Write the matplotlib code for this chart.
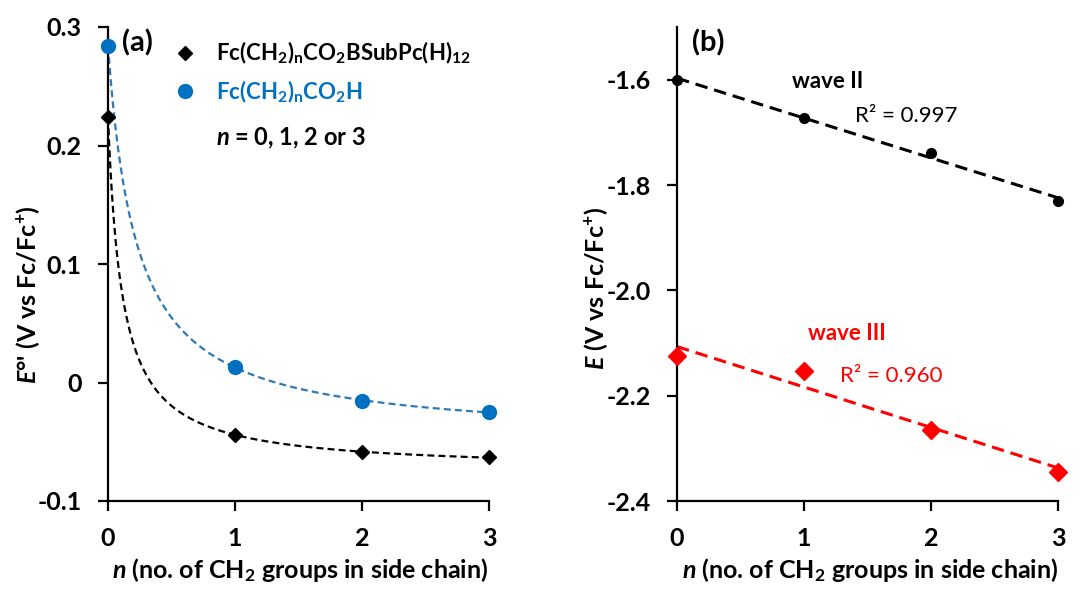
import numpy as np
import matplotlib
matplotlib.use("Agg")
import matplotlib.pyplot as plt
from matplotlib.lines import Line2D

plt.rcParams['font.family'] = ['Lato', 'DejaVu Sans']
plt.rcParams['mathtext.fontset'] = 'custom'
plt.rcParams['mathtext.rm'] = 'Lato:bold'
plt.rcParams['mathtext.bf'] = 'Lato:bold'
plt.rcParams['mathtext.it'] = 'Lato:italic:bold'
plt.rcParams['mathtext.default'] = 'bf'
plt.rcParams['lines.scale_dashes'] = False

# ---- data ----
n_vals = [0, 1, 2, 3]
ester_E = [0.224, -0.044, -0.059, -0.063]      # Fc(CH2)nCO2BSubPc(H)12
acid_E = [0.284, 0.013, -0.016, -0.0245]       # Fc(CH2)nCO2H
wave2_E = [-1.600, -1.673, -1.740, -1.830]
wave3_E = [-2.125, -2.154, -2.265, -2.344]
xticks = [0, 1, 2, 3]
yticks_a = [-0.1, 0, 0.1, 0.2, 0.3]
yticklabels_a = ['-0.1', '0', '0.1', '0.2', '0.3']
yticks_b = [-2.4, -2.2, -2.0, -1.8, -1.6]
yticklabels_b = ['-2.4', '-2.2', '-2.0', '-1.8', '-1.6']

BLUE = '#0070C0'
BLUE_LINE = '#2F7AB5'
RED = '#FF0000'

W, H = 1090, 589
fig = plt.figure(figsize=(W / 100, H / 100), dpi=100)


def px_axes(l, t, r, b):
    return fig.add_axes([l / W, 1 - b / H, (r - l) / W, (b - t) / H])


def hyper_fit(x, y):
    x = np.asarray(x, float)
    y = np.asarray(y, float)
    best = None
    for c in np.linspace(0.01, 3, 3000):
        A = np.column_stack([np.ones_like(x), 1 / (x + c)])
        coef = np.linalg.lstsq(A, y, rcond=None)[0]
        err = np.sum((A @ coef - y) ** 2)
        if best is None or err < best[0]:
            best = (err, c, coef)
    _, c, coef = best
    return lambda t: coef[0] + coef[1] / (t + c)


def style_axes(ax):
    for s in ['top', 'right']:
        ax.spines[s].set_visible(False)
    for s in ['left', 'bottom']:
        ax.spines[s].set_linewidth(1.6)
    ax.tick_params(axis='both', direction='out', length=7, width=1.6,
                   labelsize=18, pad=12)
    for lab in ax.get_xticklabels() + ax.get_yticklabels():
        lab.set_fontweight('bold')


# ---- panel (a) ----
axa = px_axes(108, 27, 489, 501)
xs = np.linspace(0, 3, 300)
fa = hyper_fit(n_vals, ester_E)
fb = hyper_fit(n_vals, acid_E)
axa.plot(xs, fa(xs), color='black', lw=1.6, dashes=(5, 3))
axa.plot(xs, fb(xs), color=BLUE_LINE, lw=1.6, dashes=(5, 3))
axa.plot(n_vals, ester_E, 'D', color='black', ms=7.5, clip_on=False, zorder=5)
axa.plot(n_vals, acid_E, 'o', color=BLUE, ms=10, clip_on=False, zorder=5)
axa.set_xlim(0, 3)
axa.set_ylim(-0.1, 0.3)
axa.set_xticks(xticks)
axa.set_xticklabels([str(v) for v in xticks])
axa.set_yticks(yticks_a)
axa.set_yticklabels(yticklabels_a)
style_axes(axa)

h1 = Line2D([], [], ls='none', marker='D', color='black', ms=7.5)
h2 = Line2D([], [], ls='none', marker='o', color=BLUE, ms=10)
leg = axa.legend([h1, h2],
                 ['Fc(CH$_2$)$_n$CO$_2$BSubPc(H)$_{12}$', 'Fc(CH$_2$)$_n$CO$_2$H'],
                 loc='upper left', bbox_to_anchor=(176 / W, 1 - 40 / H),
                 bbox_transform=fig.transFigure, frameon=False,
                 prop={'size': 16, 'weight': 'bold'}, handlelength=0.8,
                 handletextpad=1.0, labelspacing=0.55, borderpad=0,
                 borderaxespad=0)
leg.get_texts()[1].set_color(BLUE)

fig.text(216 / W, 1 - 138 / H, r'$\mathit{n}$ = 0, 1, 2 or 3', fontsize=17,
         fontweight='bold', va='center', ha='left')
fig.text(122 / W, 1 - 43 / H, '(a)', fontsize=21, fontweight='bold',
         va='center', ha='left')
fig.text(300 / W, 1 - 570 / H,
         r'$\mathit{n}$ (no. of CH$_2$ groups in side chain)', fontsize=18,
         fontweight='bold', va='center', ha='center')
fig.text(28 / W, 1 - 295 / H, r"$\mathit{E}$°' (V vs Fc/Fc$^{+}$)",
         fontsize=18, fontweight='bold', va='center', ha='center',
         rotation=90)

# ---- panel (b) ----
axb = px_axes(677, 27, 1058, 501)
xl = np.linspace(0, 3, 100)
p2 = np.polyfit(n_vals, wave2_E, 1)
p3 = np.polyfit(n_vals, wave3_E, 1)
axb.plot(xl, np.polyval(p2, xl), color='black', lw=2.2, dashes=(9, 5))
axb.plot(xl, np.polyval(p3, xl), color=RED, lw=2.2, dashes=(9, 5))
axb.plot(n_vals, wave2_E, 'o', color='black', ms=7, clip_on=False, zorder=5)
axb.plot(n_vals, wave3_E, 'D', color=RED, ms=9.5, clip_on=False, zorder=5)
axb.set_xlim(0, 3)
axb.set_ylim(-2.4, -1.5)
axb.set_xticks(xticks)
axb.set_xticklabels([str(v) for v in xticks])
axb.set_yticks(yticks_b)
axb.set_yticklabels(yticklabels_b)
style_axes(axb)

fig.text(692 / W, 1 - 43 / H, '(b)', fontsize=21, fontweight='bold',
         va='center', ha='left')
fig.text(792 / W, 1 - 81 / H, 'wave II', fontsize=16, fontweight='bold',
         va='center', ha='left')
fig.text(855 / W, 1 - 116 / H, 'R² = 0.997', fontsize=16,
         va='center', ha='left')
fig.text(808 / W, 1 - 334 / H, 'wave III', fontsize=16, fontweight='bold',
         color=RED, va='center', ha='left')
fig.text(840 / W, 1 - 376 / H, 'R² = 0.960', fontsize=16, color=RED,
         va='center', ha='left')
fig.text(870 / W, 1 - 570 / H,
         r'$\mathit{n}$ (no. of CH$_2$ groups in side chain)', fontsize=18,
         fontweight='bold', va='center', ha='center')
fig.text(596 / W, 1 - 288 / H, r"$\mathit{E}$ (V vs Fc/Fc$^{+}$)",
         fontsize=18, fontweight='bold', va='center', ha='center',
         rotation=90)

fig.savefig('out.png', dpi=100)
